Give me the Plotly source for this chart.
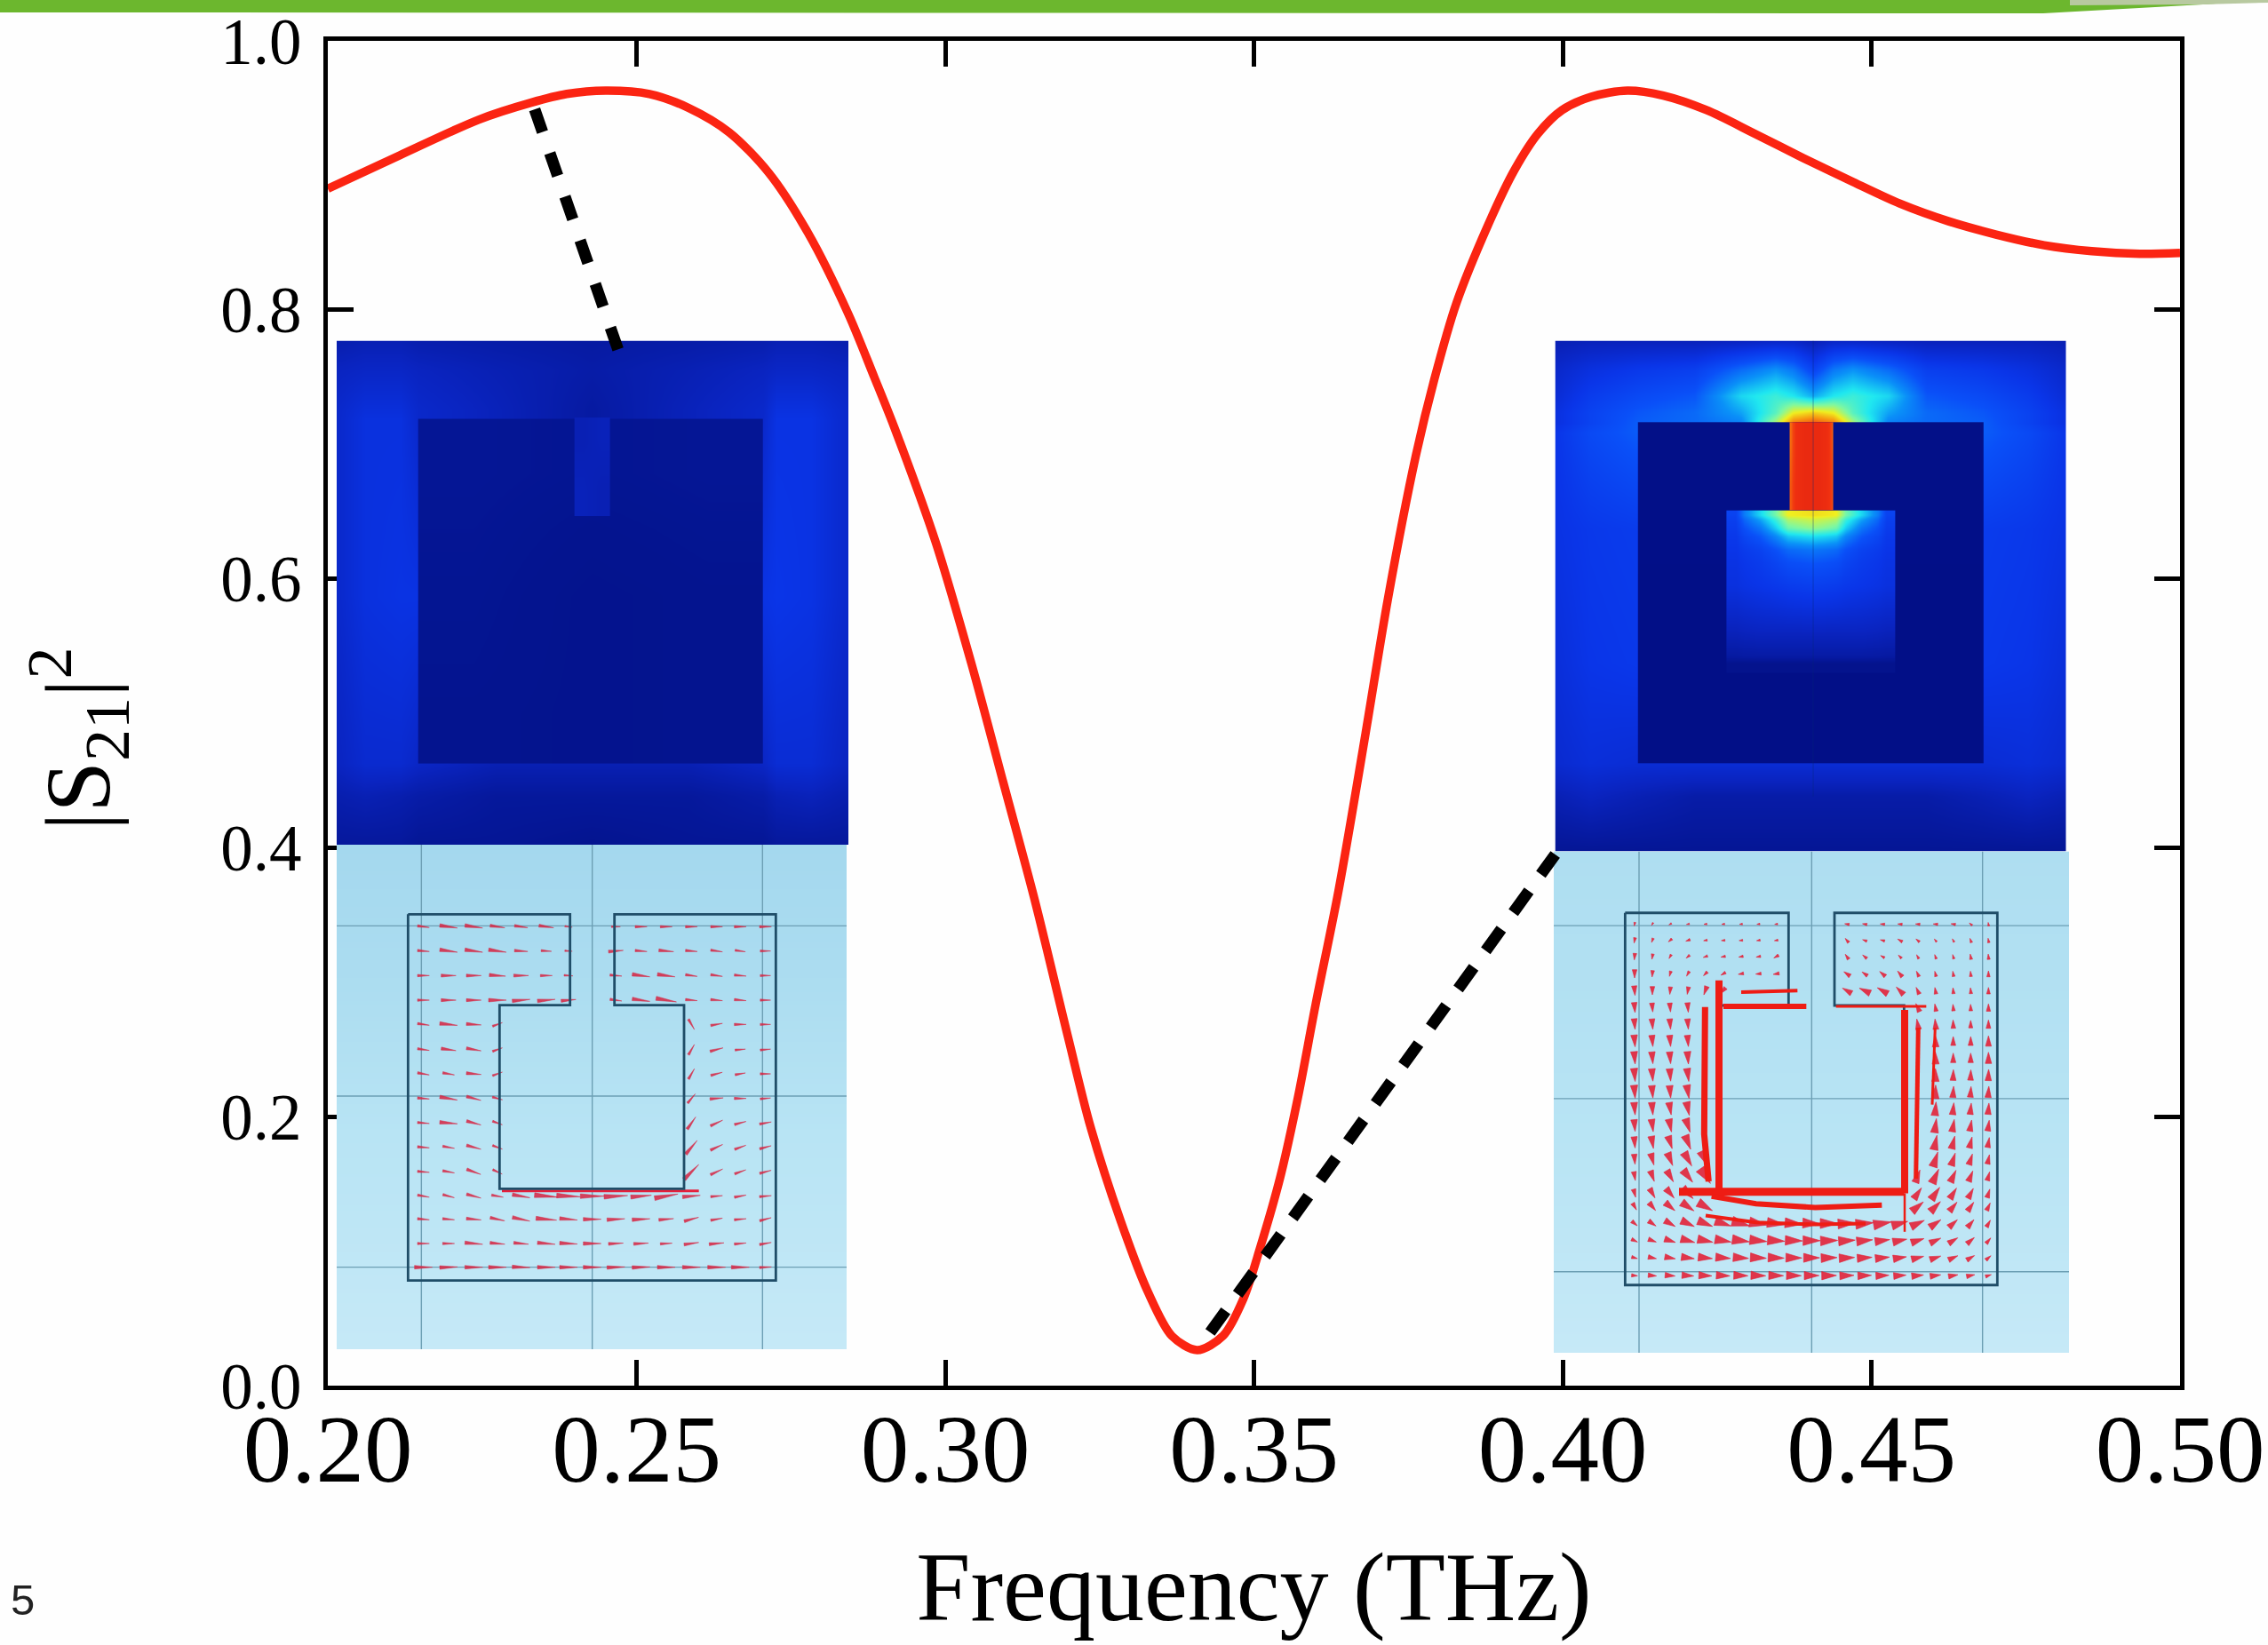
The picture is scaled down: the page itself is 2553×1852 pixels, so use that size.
import math
import plotly.graph_objects as go

W, H = 2553, 1852
L, R, T, B = 369, 2454, 46, 1560   # plot frame in page pixels

# ---------- main curve ----------
FREQ = [.2, .2117, .2245, .2329, .2387, .245, .2521, .2585, .265, .2714, .2778, .2843, .2885, .2918, .2984, .3043,
        .3094, .3145, .3199, .3235, .3284, .3328, .3367, .3408, .345, .3483, .351, .3543, .3571, .36, .3637, .3681,
        .3717, .3762, .3792, .3828, .3883, .3922, .396, .3999, .4047, .4105, .4163, .4233, .4311, .4389,
        .4467, .4546, .4624, .4702, .478, .4857, .4935, .5]
S21 = [.89, .915, .9415, .954, .9605, .963, .9605, .95, .932, .902, .857, .797, .75, .712, .628, .536,
       .4486, .361, .259, .193, .1227, .07, .037, .0264, .037, .0646, .1024, .1557, .2137, .2836, .368, .4855,
       .585, .691, .748, .805, .867, .904, .931, .9485, .9585, .963, .9593, .9485, .931, .913,
       .8958, .879, .866, .856, .848, .8436, .8417, .8423]
X_TICKS = [.2, .25, .3, .35, .4, .45, .5]
X_LABELS = ["0.20", "0.25", "0.30", "0.35", "0.40", "0.45", "0.50"]
Y_TICKS = [0, .2, .4, .6, .8, 1.0]
Y_LABELS = ["0.0", "0.2", "0.4", "0.6", "0.8", "1.0"]
DASH1_F, DASH1_V = [.2335, .247], [.949, .7705]
DASH2_F, DASH2_V = [.3429, .3988], [.0396, .395]

# ---------- field panels (arbitrary image units) ----------
COLORSCALE = [[0, "#00087c"], [.08, "#04148f"], [.16, "#0a24c0"], [.24, "#0a35e8"], [.32, "#0a50f8"], [.42, "#0a90f8"],
              [.52, "#20e8f0"], [.62, "#80f8a0"], [.72, "#f0f020"], [.82, "#f89010"], [.92, "#f03010"], [1, "#e02010"]]

LH_X = [48, 130, 230, 280, 500, 775, 1050, 1262, 1300, 1400, 1505]
LH_Y = [18, 60, 120, 135, 400, 650, 700, 772]
LH_Z = [[.13, .14, .14, .13, .12, .11, .12, .13, .14, .14, .13],
        [.16, .17, .17, .16, .14, .12, .14, .16, .17, .17, .16],
        [.18, .21, .21, .18, .15, .11, .15, .18, .22, .22, .18],
        [.18, .22, .22, .18, .15, .11, .15, .18, .23, .23, .18],
        [.18, .22, .23, .23, .20, .20, .20, .23, .24, .23, .18],
        [.16, .19, .19, .17, .14, .14, .14, .17, .20, .20, .16],
        [.13, .14, .13, .12, .10, .10, .10, .12, .14, .15, .13],
        [.10, .10, .10, .09, .09, .08, .09, .09, .10, .10, .10]]
LRING_X = [280, 600, 950, 1262]
LRING_Y = [135, 300, 500, 650]
LRING_Z = [[.09, .085, .09], [.085, .075, .08], [.08, .075, .08]]
LGAP_X = [725, 775, 825]
LGAP_Y = [133, 200, 280]
LGAP_Z = [[.14, .15], [.15, .14]]

RH_X = [52, 150, 290, 450, 580, 680, 730, 787, 845, 900, 1000, 1110, 1272, 1400, 1508]
RH_Y = [18, 60, 100, 125, 140, 155, 300, 500, 650, 700, 782]
RH_Z = [[.14, .15, .15, .15, .16, .17, .17, .14, .17, .17, .16, .15, .15, .15, .14],
        [.18, .22, .25, .27, .36, .42, .38, .28, .38, .42, .36, .27, .25, .22, .18],
        [.20, .26, .30, .33, .50, .55, .52, .45, .52, .55, .50, .33, .30, .26, .20],
        [.22, .28, .33, .36, .44, .58, .72, .76, .72, .58, .44, .36, .33, .28, .22],
        [.22, .28, .34, .36, .40, .66, .84, .88, .84, .66, .40, .36, .34, .28, .22],
        [.24, .30, .34, .34, .34, .34, .34, .34, .34, .34, .34, .34, .34, .30, .24],
        [.23, .25, .26, .26, .26, .26, .26, .26, .26, .26, .26, .26, .26, .25, .23],
        [.21, .24, .25, .25, .25, .25, .25, .25, .25, .25, .25, .25, .25, .24, .21],
        [.19, .21, .20, .20, .20, .20, .20, .20, .20, .20, .20, .20, .20, .21, .19],
        [.14, .16, .14, .12, .12, .12, .12, .12, .12, .12, .12, .12, .14, .16, .14],
        [.09, .09, .09, .09, .09, .09, .09, .09, .09, .09, .09, .09, .09, .09, .09]]
RRING_X = [288, 780, 1272]
RRING_Y = [140, 400, 650]
RRING_Z = [[.05, .05], [.045, .045]]
RBLOCK_X = [540, 590, 680, 750, 825, 880, 970, 1020]
RBLOCK_Y = [272, 285, 310, 350, 420, 490, 515]
RBLOCK_Z = [[.28, .50, .72, .74, .72, .50, .28],
            [.26, .38, .60, .64, .60, .38, .26],
            [.24, .28, .36, .38, .36, .28, .24],
            [.22, .24, .26, .27, .26, .24, .22],
            [.15, .16, .16, .16, .16, .16, .15],
            [.07, .07, .07, .07, .07, .07, .07]]
RGAP_X = [720, 728, 752, 778, 796, 817, 838, 845]
RGAP_Y = [140, 200, 272]
RGAP_Z = [[.86, .93, .95, .95, .95, .93, .86], [.88, .93, .95, .95, .95, .93, .88]]

# ---------- current panels ----------
LIGHT_SCALE = [[0, "#a4d8ee"], [.5, "#b8e4f4"], [1, "#c6e9f7"]]
LL_RANGE_X, LL_RANGE_Y = [-183, 1539], [1527, -177]
RL_RANGE_X, RL_RANGE_Y = [-183, 1557], [1539, -156]
LIGHT_Y = [-177, 300, 800, 1200, 1540]
LL_Z = [[.0, .0], [.2, .2], [.5, .5], [.75, .75], [1, 1]]
RL_Z = [[.25, .25], [.35, .35], [.5, .5], [.75, .75], [1, 1]]

LOUT_X = [58, 605, 605, 367, 367, 990, 990, 755, 755, 1300, 1300, 58, 58]
LOUT_Y = [58, 58, 365, 365, 985, 985, 365, 365, 58, 58, 1295, 1295, 58]
LGRID_V, LGRID_H = [103, 680, 1255], [97, 672, 1250]
ROUT_X = [58, 610, 610, 378, 378, 1000, 1000, 765, 765, 1315, 1315, 58, 58]
ROUT_Y = [52, 52, 365, 365, 990, 990, 365, 365, 52, 52, 1310, 1310, 52]
RGRID_V, RGRID_H = [105, 688, 1265], [95, 680, 1265]

LA_X = [110, 195, 280, 360, 440, 525, 600, 680, 760, 845, 930, 1015, 1100, 1180, 1265]
LA_Y = [100, 182, 265, 348, 430, 515, 597, 680, 763, 845, 928, 1010, 1088, 1170, 1250]
LA_LEN = [[40, 60, 60, 50, 45, 50, 25, 0, 30, 40, 40, 40, 40, 40, 40],
          [40, 60, 60, 60, 45, 35, 25, 0, 50, 40, 50, 40, 40, 35, 35],
          [40, 50, 50, 55, 50, 40, 30, 0, 40, 60, 60, 40, 40, 40, 35],
          [40, 50, 50, 60, 60, 60, 50, 0, 40, 60, 70, 40, 40, 40, 35],
          [40, 60, 50, 35, 0, 0, 0, 0, 0, 0, 0, 40, 40, 40, 35],
          [40, 50, 50, 35, 0, 0, 0, 0, 0, 0, 0, 40, 45, 35, 35],
          [40, 40, 50, 35, 0, 0, 0, 0, 0, 0, 0, 40, 40, 35, 35],
          [40, 60, 50, 35, 0, 0, 0, 0, 0, 0, 0, 40, 45, 40, 35],
          [40, 60, 50, 35, 0, 0, 0, 0, 0, 0, 0, 50, 45, 40, 40],
          [40, 40, 50, 35, 0, 0, 0, 0, 0, 0, 0, 60, 45, 40, 40],
          [40, 40, 50, 35, 0, 0, 0, 0, 0, 0, 0, 70, 45, 40, 40],
          [40, 40, 50, 40, 60, 80, 80, 80, 80, 70, 80, 60, 40, 40, 40],
          [40, 40, 50, 50, 60, 70, 60, 60, 60, 60, 50, 50, 40, 40, 40],
          [40, 40, 60, 50, 50, 60, 60, 60, 50, 50, 40, 50, 50, 40, 40],
          [60, 60, 60, 60, 60, 60, 60, 60, 60, 60, 60, 60, 60, 60, 40]]
LA_ANG = [[8, 8, 8, 8, 8, 8, 8, 0, 0, 0, 0, 0, 0, 0, 0],
          [5, 8, 8, 8, 4, 4, 4, 0, -5, 5, 5, 5, 8, 8, 0],
          [0, 0, 0, 4, 0, 0, 4, 0, 5, 8, 8, 8, 8, 5, 0],
          [0, 0, 0, 0, -5, -5, -5, 0, 8, 8, 10, 5, 5, 5, 0],
          [8, 6, 4, -20, 0, 0, 0, 0, 0, 0, 0, 60, -10, 0, 0],
          [8, 8, 10, -20, 0, 0, 0, 0, 0, 0, 0, -60, -15, -5, -5],
          [10, 10, 5, -20, 0, 0, 0, 0, 0, 0, 0, -60, -15, -10, 0],
          [5, 10, 15, 15, 0, 0, 0, 0, 0, 0, 0, -50, -5, 0, -5],
          [5, 5, 15, 20, 0, 0, 0, 0, 0, 0, 0, -55, -25, -15, -10],
          [5, 10, 15, 20, 0, 0, 0, 0, 0, 0, 0, -50, -25, -20, -15],
          [5, 10, 20, 25, 0, 0, 0, 0, 0, 0, 0, -45, -25, -20, -15],
          [10, 15, 15, 10, 10, 5, 3, 0, -3, -5, -10, -5, -5, -10, -5],
          [5, 5, 5, 12, 12, 5, 5, 0, -3, -3, -5, -15, -10, -5, -15],
          [0, 0, 5, 5, 5, 5, 3, 0, -3, -3, -3, -8, -5, -5, -10],
          [0, -2, 0, 0, 2, 0, 0, 0, -2, -2, 0, 0, 0, 0, -3]]
LSTROKE_X = [[375, 1040]]
LSTROKE_Y = [[992, 992]]
LSTROKE_W = [3]

RA_X = [90, 150, 210, 270, 329, 389, 449, 508, 568, 628, 688, 747, 807, 867, 927, 986, 1046, 1106, 1166, 1225, 1285]
RA_Y = [90, 145, 200, 258, 315, 372, 428, 485, 542, 600, 657, 714, 771, 828, 885, 942, 1000, 1045, 1102, 1160, 1218, 1278]
RA_LEN = [[12, 10, 10, 10, 10, 10, 10, 10, 10, 0, 0, 0, 15, 15, 15, 15, 15, 15, 15, 12, 12],
          [18, 15, 15, 15, 12, 12, 12, 12, 12, 0, 0, 0, 18, 15, 15, 18, 15, 12, 12, 15, 15],
          [22, 18, 15, 15, 15, 15, 15, 15, 18, 0, 0, 0, 20, 18, 15, 15, 15, 15, 15, 18, 18],
          [28, 22, 18, 18, 18, 18, 18, 18, 20, 0, 0, 0, 25, 22, 25, 25, 20, 18, 18, 18, 20],
          [32, 28, 25, 25, 30, 25, 0, 0, 0, 0, 0, 0, 35, 40, 40, 35, 25, 22, 20, 20, 22],
          [34, 30, 30, 32, 0, 0, 0, 0, 0, 0, 0, 0, 0, 0, 0, 0, 30, 25, 22, 22, 25],
          [36, 35, 35, 35, 0, 0, 0, 0, 0, 0, 0, 0, 0, 0, 0, 0, 35, 35, 28, 25, 28],
          [40, 38, 38, 38, 0, 0, 0, 0, 0, 0, 0, 0, 0, 0, 0, 0, 0, 40, 30, 30, 35],
          [42, 40, 40, 42, 0, 0, 0, 0, 0, 0, 0, 0, 0, 0, 0, 0, 0, 42, 32, 32, 38],
          [44, 42, 42, 44, 0, 0, 0, 0, 0, 0, 0, 0, 0, 0, 0, 0, 0, 44, 36, 35, 38],
          [44, 42, 42, 46, 0, 0, 0, 0, 0, 0, 0, 0, 0, 0, 0, 0, 0, 46, 38, 36, 38],
          [42, 42, 42, 46, 0, 0, 0, 0, 0, 0, 0, 0, 0, 0, 0, 0, 0, 46, 40, 38, 38],
          [40, 42, 44, 48, 0, 0, 0, 0, 0, 0, 0, 0, 0, 0, 0, 0, 0, 48, 42, 38, 36],
          [38, 42, 44, 50, 0, 0, 0, 0, 0, 0, 0, 0, 0, 0, 0, 0, 0, 50, 44, 38, 34],
          [34, 40, 46, 52, 60, 0, 0, 0, 0, 0, 0, 0, 0, 0, 0, 0, 0, 52, 44, 38, 32],
          [30, 38, 44, 52, 60, 0, 0, 0, 0, 0, 0, 0, 0, 0, 0, 0, 45, 52, 44, 38, 30],
          [28, 36, 42, 50, 0, 0, 0, 0, 0, 0, 0, 0, 0, 0, 0, 0, 45, 50, 42, 38, 30],
          [26, 34, 42, 50, 55, 0, 0, 0, 0, 0, 0, 0, 0, 0, 0, 0, 50, 48, 40, 36, 28],
          [24, 30, 40, 48, 52, 55, 60, 60, 60, 60, 60, 60, 60, 60, 60, 55, 50, 45, 38, 34, 26],
          [22, 28, 38, 48, 52, 55, 58, 58, 58, 58, 58, 58, 56, 54, 50, 48, 45, 40, 36, 32, 24],
          [20, 28, 36, 44, 48, 50, 52, 54, 54, 54, 54, 54, 52, 50, 48, 45, 42, 38, 34, 30, 22],
          [20, 28, 34, 40, 44, 46, 48, 50, 50, 50, 50, 50, 48, 46, 44, 42, 40, 36, 32, 28, 20]]
RA_ANG = [[100, 120, 150, 170, 175, 175, 175, 175, 175, 0, 0, 0, -170, -170, -175, -175, -175, -175, -170, -140, -100],
          [100, 110, 140, 160, 170, 175, 175, 170, 170, 0, 0, 0, -130, -160, -165, -150, -140, -130, -120, -110, -100],
          [95, 100, 120, 140, 160, 170, 170, 170, 150, 0, 0, 0, -125, -140, -150, -135, -120, -110, -105, -100, -95],
          [90, 95, 105, 120, 135, 150, 170, 175, 170, 0, 0, 0, -145, -145, -140, -130, -115, -105, -100, -95, -90],
          [85, 90, 95, 100, 110, 130, 0, 0, 0, 0, 0, 0, -150, -155, -150, -135, -115, -100, -95, -95, -90],
          [85, 85, 85, 85, 0, 0, 0, 0, 0, 0, 0, 0, 0, 0, 0, 0, -115, -100, -95, -92, -90],
          [85, 85, 85, 85, 0, 0, 0, 0, 0, 0, 0, 0, 0, 0, 0, 0, -100, -95, -92, -90, -90],
          [85, 85, 85, 85, 0, 0, 0, 0, 0, 0, 0, 0, 0, 0, 0, 0, 0, -92, -90, -90, -90],
          [85, 85, 85, 85, 0, 0, 0, 0, 0, 0, 0, 0, 0, 0, 0, 0, 0, -92, -90, -90, -90],
          [85, 85, 85, 82, 0, 0, 0, 0, 0, 0, 0, 0, 0, 0, 0, 0, 0, -90, -88, -88, -88],
          [85, 85, 85, 80, 0, 0, 0, 0, 0, 0, 0, 0, 0, 0, 0, 0, 0, -88, -86, -86, -86],
          [85, 85, 80, 78, 0, 0, 0, 0, 0, 0, 0, 0, 0, 0, 0, 0, 0, -85, -84, -84, -85],
          [85, 82, 78, 72, 0, 0, 0, 0, 0, 0, 0, 0, 0, 0, 0, 0, 0, -82, -80, -80, -82],
          [85, 80, 72, 68, 0, 0, 0, 0, 0, 0, 0, 0, 0, 0, 0, 0, 0, -78, -76, -76, -80],
          [85, 75, 68, 60, 65, 0, 0, 0, 0, 0, 0, 0, 0, 0, 0, 0, 0, -72, -72, -72, -78],
          [80, 70, 60, 52, 55, 0, 0, 0, 0, 0, 0, 0, 0, 0, 0, 0, -70, -65, -65, -68, -75],
          [75, 60, 50, 45, 0, 0, 0, 0, 0, 0, 0, 0, 0, 0, 0, 0, -55, -55, -58, -62, -72],
          [60, 50, 40, 35, 30, 0, 0, 0, 0, 0, 0, 0, 0, 0, 0, 0, -40, -45, -50, -55, -65],
          [40, 35, 30, 25, 22, 18, 15, 10, 7, 5, 3, 0, -3, -5, -10, -15, -25, -35, -42, -50, -60],
          [25, 20, 18, 15, 12, 10, 8, 6, 4, 2, 0, -2, -4, -6, -8, -12, -18, -25, -32, -40, -50],
          [15, 12, 10, 8, 6, 5, 4, 3, 2, 1, 0, -2, -3, -4, -6, -9, -14, -18, -24, -30, -40],
          [5, 5, 5, 4, 3, 3, 2, 2, 1, 1, 0, -1, -2, -2, -3, -4, -6, -8, -10, -12, -18]]
RSTROKE_X = [[375, 375], [328, 325, 340], [240, 1000], [350, 500, 700, 850, 925], [330, 500, 700, 870],
             [1002, 1002], [1002, 1002], [1048, 1040], [1105, 1095], [450, 640], [390, 670], [770, 1075]]
RSTROKE_Y = [[280, 985], [370, 800, 960], [995, 995], [1010, 1035, 1048, 1045, 1040], [1075, 1098, 1105, 1102],
             [380, 1000], [1000, 1130], [440, 950], [440, 700], [320, 315], [368, 368], [368, 368]]
RSTROKE_W = [8, 7, 9, 6, 4, 8, 2.5, 5, 3, 4, 6, 3]

PAGE_NUMBER = "5"
X_TITLE = "Frequency (THz)"
Y_TITLE = "|S<sub>21</sub>|<sup>2</sup>"
RED = "#fb2412"
FONT = "Liberation Serif"


def dom_x(a, b):
    return [(a - L) / (R - L), (b - L) / (R - L)]


def dom_y(top, bot):
    return [(B - bot) / (B - T), (B - top) / (B - T)]


def cones(xs, ys, lens, angs, factor):
    px, py = [], []
    for j, y in enumerate(ys):
        for i, x in enumerate(xs):
            n = lens[j][i]
            if not n:
                continue
            a = math.radians(angs[j][i])
            ux, uy = math.cos(a), math.sin(a)
            w = max(2.5, factor * n)
            bx, by = x - ux * n / 2, y - uy * n / 2
            tx, ty = x + ux * n / 2, y + uy * n / 2
            px += [bx - uy * w, tx, bx + uy * w, bx - uy * w, None]
            py += [by + ux * w, ty, by - ux * w, by + ux * w, None]
    return px, py


def page_path(points):
    parts = []
    for i, (a, b) in enumerate(points):
        parts.append("%s %f %f" % ("M" if i == 0 else "L", (a - L) / (R - L), (B - b) / (B - T)))
    return " ".join(parts) + " Z"


fig = go.Figure()
heat = dict(coloraxis="coloraxis", hoverinfo="skip")


def add_heat(x, y, z, sub, smooth="best"):
    fig.add_trace(go.Heatmap(x=x, y=y, z=z, zsmooth=smooth, xaxis="x" + sub, yaxis="y" + sub, **heat))


def add_light(rng, z, sub):
    fig.add_trace(go.Heatmap(x=rng, y=LIGHT_Y, z=z, zsmooth="best", zmin=0, zmax=1, colorscale=LIGHT_SCALE,
                             showscale=False, xaxis="x" + sub, yaxis="y" + sub, hoverinfo="skip"))


def add_line(x, y, sub, color, width, dash=None, shape="linear", mode="lines"):
    fig.add_trace(go.Scatter(x=x, y=y, mode=mode, xaxis="x" + sub, yaxis="y" + sub, hoverinfo="skip",
                             line=dict(color=color, width=width, dash=dash, shape=shape), showlegend=False))


# main curve
fig.add_trace(go.Scatter(x=FREQ, y=S21, mode="lines", showlegend=False, xaxis="x", yaxis="y",
                         line=dict(color=RED, width=9.5, shape="spline", smoothing=.85)))

# left heat panel
add_heat(LH_X, LH_Y, LH_Z, "2")
add_heat(LRING_X, LRING_Y, LRING_Z, "2")
add_heat(LGAP_X, LGAP_Y, LGAP_Z, "2")

# left current panel
add_light(LL_RANGE_X, LL_Z, "3")
for v in LGRID_V:
    add_line([v, v], LL_RANGE_Y, "3", "#6d9fb4", 1.4)
for h in LGRID_H:
    add_line(LL_RANGE_X, [h, h], "3", "#6d9fb4", 1.4)
px, py = cones(LA_X, LA_Y, LA_LEN, LA_ANG, .1)
fig.add_trace(go.Scatter(x=px, y=py, mode="lines", fill="toself", fillcolor="rgba(214,36,66,.85)", xaxis="x3", yaxis="y3",
                         line=dict(color="rgba(214,36,66,.6)", width=.8), showlegend=False, hoverinfo="skip"))
for sx, sy, sw in zip(LSTROKE_X, LSTROKE_Y, LSTROKE_W):
    add_line(sx, sy, "3", "#e5203c", sw)
add_line(LOUT_X, LOUT_Y, "3", "#1f4d68", 2.8)

# right heat panel
add_heat(RH_X, RH_Y, RH_Z, "4")
add_heat(RRING_X, RRING_Y, RRING_Z, "4")
add_heat(RBLOCK_X, RBLOCK_Y, RBLOCK_Z, "4")
add_heat(RGAP_X, RGAP_Y, RGAP_Z, "4")
add_line([787, 787], [18, 700], "4", "rgba(10,40,120,.35)", 1.2)

# right current panel
add_light(RL_RANGE_X, RL_Z, "5")
for v in RGRID_V:
    add_line([v, v], RL_RANGE_Y, "5", "#6d9fb4", 1.4)
for h in RGRID_H:
    add_line(RL_RANGE_X, [h, h], "5", "#6d9fb4", 1.4)
add_line(ROUT_X, ROUT_Y, "5", "#1f4d68", 2.8)
px, py = cones(RA_X, RA_Y, RA_LEN, RA_ANG, .28)
fig.add_trace(go.Scatter(x=px, y=py, mode="lines", fill="toself", fillcolor="rgba(226,34,56,.9)", xaxis="x5", yaxis="y5",
                         line=dict(color="rgba(226,34,56,.6)", width=1), showlegend=False, hoverinfo="skip"))
for sx, sy, sw in zip(RSTROKE_X, RSTROKE_Y, RSTROKE_W):
    add_line(sx, sy, "5", "#ee1c14", sw)

# dashed leaders, above the panels
add_line(DASH1_F, DASH1_V, "6", "black", 13, dash="27px,25px")
add_line(DASH2_F, DASH2_V, "6", "black", 13, dash="30px,23px")

hidden = dict(visible=False, fixedrange=True)
BAND = [(0, 0), (0, 14), (2300, 15), (2480, 5), (W, 0)]
BAND_END = [(2330, 0), (2330, 6), (2480, 5), (W, 3), (W, 0)]
fig.update_layout(
    width=W, height=H, margin=dict(l=L, r=W - R, t=T, b=H - B, pad=0, autoexpand=False),
    paper_bgcolor="#fefefe", plot_bgcolor="rgba(0,0,0,0)", showlegend=False,
    font=dict(family=FONT, color="black"),
    coloraxis=dict(colorscale=COLORSCALE, cmin=0, cmax=1, showscale=False),
    xaxis=dict(range=[.2, .5], tickvals=X_TICKS, ticktext=X_LABELS, ticks="inside", ticklen=29, tickwidth=5,
               tickcolor="black", linecolor="black", linewidth=5, mirror="ticks", showgrid=False, zeroline=False,
               automargin=False, tickfont=dict(size=109, family=FONT), ticklabelstandoff=-28,
               title=dict(text=X_TITLE, font=dict(size=110, family=FONT), standoff=58)),
    yaxis=dict(range=[0, 1], tickvals=Y_TICKS, ticktext=Y_LABELS, ticks="inside", ticklen=29, tickwidth=5,
               tickcolor="black", linecolor="black", linewidth=5, mirror="ticks", showgrid=False, zeroline=False,
               automargin=False, tickfont=dict(size=73, family=FONT), ticklabelstandoff=10),
    xaxis2=dict(domain=dom_x(379, 955), range=[48, 1505], anchor="y2", **hidden),
    yaxis2=dict(domain=dom_y(383.5, 951), range=[772, 18], anchor="x2", **hidden),
    xaxis3=dict(domain=dom_x(379, 953), range=LL_RANGE_X, anchor="y3", **hidden),
    yaxis3=dict(domain=dom_y(951, 1519), range=LL_RANGE_Y, anchor="x3", **hidden),
    xaxis4=dict(domain=dom_x(1750.5, 2326), range=[52, 1508], anchor="y4", **hidden),
    yaxis4=dict(domain=dom_y(383.5, 958.5), range=[782, 18], anchor="x4", **hidden),
    xaxis5=dict(domain=dom_x(1749, 2329), range=RL_RANGE_X, anchor="y5", **hidden),
    yaxis5=dict(domain=dom_y(958.5, 1523), range=RL_RANGE_Y, anchor="x5", **hidden),
    xaxis6=dict(domain=[0, 1], range=[.2, .5], anchor="y6", **hidden),
    yaxis6=dict(domain=[0, 1], range=[0, 1], anchor="x6", **hidden),
    annotations=[dict(text=PAGE_NUMBER, xref="paper", yref="paper", x=(25 - L) / (R - L), y=(B - 1801) / (B - T),
                      showarrow=False, xanchor="center", yanchor="middle",
                      font=dict(family="Liberation Sans", size=49, color="#222")),
                 dict(text=Y_TITLE, xref="paper", yref="paper", x=(88 - L) / (R - L), y=(B - 832) / (B - T),
                      showarrow=False, xanchor="center", yanchor="middle", textangle=-90,
                      font=dict(family=FONT, size=103, color="black"))],
    shapes=[dict(type="path", xref="paper", yref="paper", layer="below", line=dict(width=0), fillcolor="#6cb72e",
                 path=page_path(BAND)),
            dict(type="path", xref="paper", yref="paper", layer="below", line=dict(width=0), fillcolor="#b8c9a0",
                 path=page_path(BAND_END))],
)
fig.write_html("out.html", config=dict(displayModeBar=False),
               post_script="document.body.style.margin='0';document.body.style.overflow='hidden';"
                           "var g=document.querySelector('.plotly-graph-div');g.style.position='absolute';"
                           "g.style.left='0';g.style.top='0';")
